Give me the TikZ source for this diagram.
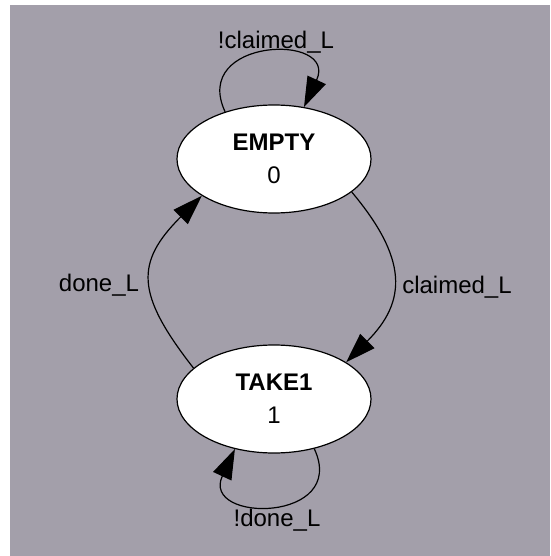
\documentclass[tikz,border=0pt]{standalone}
\usepackage{fontspec}
\setmainfont{Liberation Sans}
\usetikzlibrary{shapes.geometric,arrows.meta}
\definecolor{bggray}{RGB}{163,159,170}
\tikzset{every picture/.style={line width=1.2pt}}
\tikzset{
  state/.style={ellipse, draw, fill=white, minimum width=194pt,
                minimum height=108pt, inner sep=0pt, align=center,
                font=\fontsize{24}{33}\selectfont},
  trans/.style={draw, -{Triangle[length=30pt,width=20pt]}},
  lbl/.style={font=\fontsize{24}{28}\selectfont, inner sep=0pt},
}
\def\loopd{82}

\begin{document}
\begin{tikzpicture}[x=1pt,y=1pt]
  % page and grey canvas
  \useasboundingbox (0,0) rectangle (550,-556);
  \fill[bggray] (10,-5) rectangle (550,-556);
  % states
  \node[state] (empty) at (274,-159) {\textbf{EMPTY}\\0};
  \node[state] (take1) at (274,-399) {\textbf{TAKE1}\\1};
  % transitions
  \draw[trans] (empty.-23) to[out=-50,in=45,looseness=1.3] (take1.27);
  \draw[trans] (take1.159) to[out=128,in=-135,looseness=1.4] (empty.207);
  \draw[trans] (empty.136) .. controls +(115:\loopd) and +(65:\loopd) .. (empty.60);
  \draw[trans] (take1.-51) .. controls +(-65:\loopd) and +(-115:\loopd) .. (take1.232);
  % labels
  \node[lbl] (lclaimednot) at (276,-42) {!claimed\_L};
  \node[lbl] (lclaimed) at (457,-287) {claimed\_L};
  \node[lbl] (ldone) at (99,-285) {done\_L};
  \node[lbl] (ldonenot) at (277,-520) {!done\_L};
\end{tikzpicture}
\end{document}
